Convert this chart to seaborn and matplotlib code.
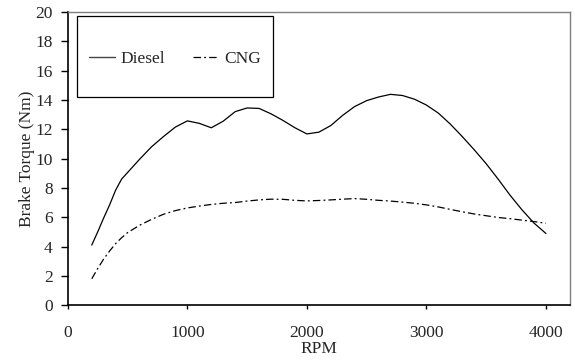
import numpy as np
import pandas as pd
import matplotlib
matplotlib.use("Agg")
import matplotlib.pyplot as plt
from matplotlib.lines import Line2D
from matplotlib.patches import Rectangle
import seaborn as sns

# valores
rpm = [200, 250, 300, 350, 400, 450, 500, 600, 700, 800, 900, 1000, 1100,
       1200, 1300, 1400, 1500, 1600, 1700, 1800, 1900, 2000, 2100, 2200, 2300,
       2400, 2500, 2600, 2700, 2800, 2900, 3000, 3100, 3200, 3300, 3400, 3500,
       3600, 3700, 3800, 3900, 4000]
diesel = [4.1, 5.0, 5.95, 6.85, 7.85, 8.6, 9.05, 9.95, 10.8, 11.5, 12.15,
          12.57, 12.4, 12.1, 12.55, 13.2, 13.45, 13.42, 13.05, 12.6, 12.1,
          11.68, 11.8, 12.25, 12.95, 13.55, 13.95, 14.2, 14.38, 14.3, 14.05,
          13.65, 13.1, 12.35, 11.5, 10.6, 9.65, 8.6, 7.5, 6.5, 5.6, 4.89]
cng = [1.8, 2.5, 3.15, 3.7, 4.2, 4.6, 4.95, 5.45, 5.85, 6.2, 6.45, 6.63,
       6.76, 6.87, 6.95, 7.0, 7.1, 7.18, 7.23, 7.22, 7.15, 7.11, 7.14, 7.18,
       7.23, 7.27, 7.22, 7.15, 7.1, 7.03, 6.95, 6.84, 6.7, 6.53, 6.37, 6.22,
       6.1, 5.98, 5.9, 5.8, 5.7, 5.59]
x_ticks = [0, 1000, 2000, 3000, 4000]
y_ticks = list(range(0, 21, 2))

df = pd.DataFrame({"RPM": rpm, "Diesel": diesel, "CNG": cng})

sns.set_style("ticks")
plt.rcParams["font.family"] = ["Liberation Serif", "DejaVu Serif"]

fig, ax = plt.subplots(figsize=(5.75, 3.62), dpi=100)
fig.subplots_adjust(left=0.118, right=0.991, top=0.967, bottom=0.157)

cng_dash = (6, 2.5, 1.5, 2.5)
sns.lineplot(data=df, x="RPM", y="Diesel", ax=ax, color="black", linewidth=0.9)
sns.lineplot(data=df, x="RPM", y="CNG", ax=ax, color="black", linewidth=0.9,
             dashes=False)
ax.lines[-1].set_dashes(cng_dash)

ax.set_xlim(0, 4200)
ax.set_ylim(0, 20)
ax.set_xticks(x_ticks)
ax.set_yticks(y_ticks)
ax.tick_params(axis="both", labelsize=12.5, width=1, color="black",
               direction="out")
ax.tick_params(axis="y", length=5, pad=6)
ax.tick_params(axis="x", length=3, pad=11)
ax.set_xlabel("RPM", fontsize=12.5, labelpad=0)
ax.set_ylabel("Brake Torque (Nm)", fontsize=12.5, labelpad=0)

for s in ["left", "bottom"]:
    ax.spines[s].set_color("black")
    ax.spines[s].set_linewidth(1.2)
for s in ["top", "right"]:
    ax.spines[s].set_color("#7f7f7f")
    ax.spines[s].set_linewidth(1.0)
    ax.spines[s].set_visible(True)

# recuadro de la leyenda
ax.add_patch(Rectangle((0.018, 0.71), 0.39, 0.276, transform=ax.transAxes,
                       fill=False, edgecolor="black", linewidth=0.9, zorder=5))
handles = [Line2D([], [], color="#444444", linewidth=1.0),
           Line2D([], [], color="black", linewidth=0.9, dashes=cng_dash)]
ax.legend(handles, ["Diesel", "CNG"], ncol=2, loc="center",
          bbox_to_anchor=(0.213, 0.84), frameon=False, fontsize=12.5,
          handlelength=1.5, handletextpad=0.3, columnspacing=1.6)

plt.savefig("out.png", dpi=100)
